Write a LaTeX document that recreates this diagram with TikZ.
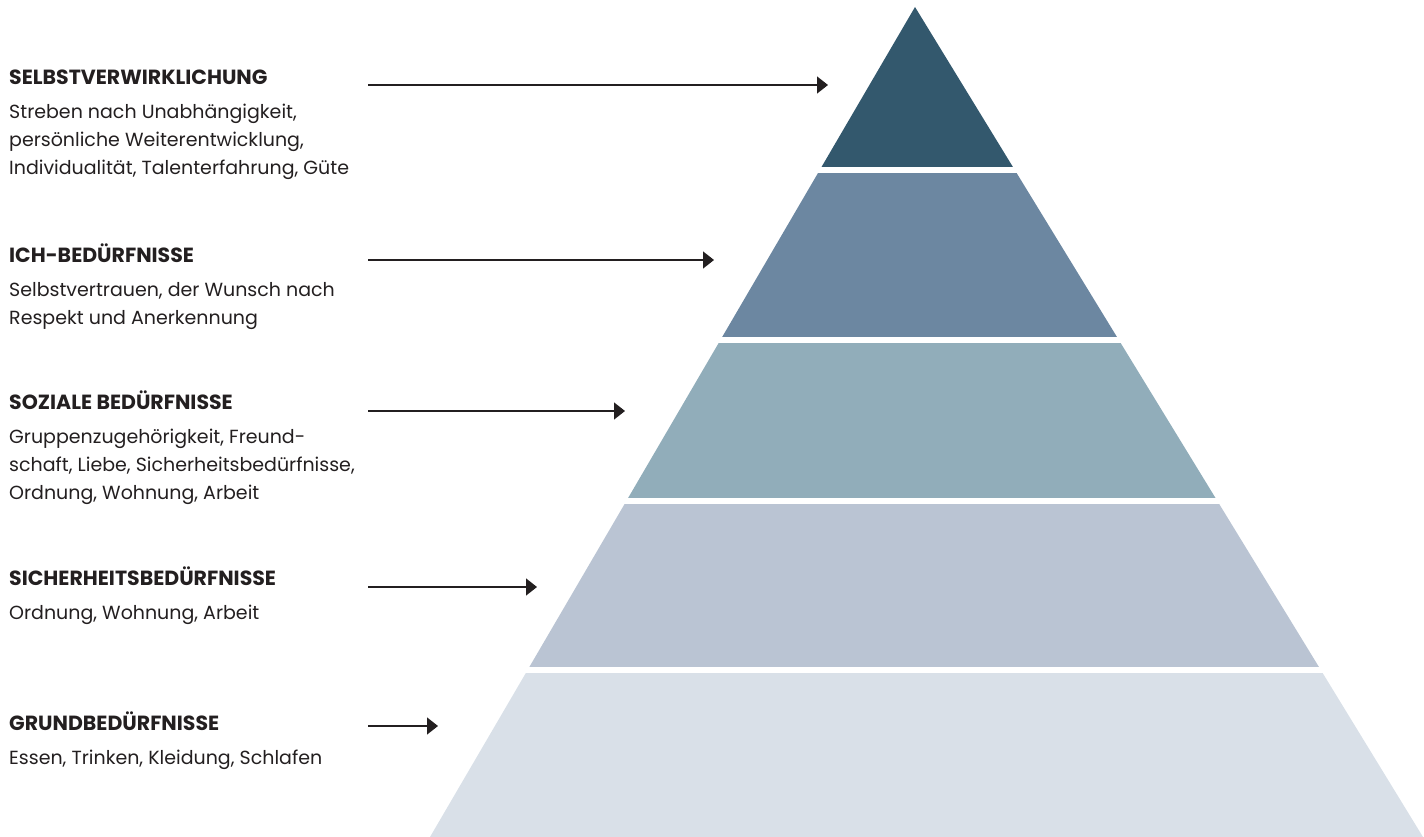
\documentclass[tikz,border=0pt]{standalone}
\usepackage{fontspec}
\setmainfont{Poppins}
\usetikzlibrary{arrows.meta}
\definecolor{ink}{HTML}{231F20}
\definecolor{lay1}{HTML}{33586D}
\definecolor{lay2}{HTML}{6C87A1}
\definecolor{lay3}{HTML}{91ADBA}
\definecolor{lay4}{HTML}{BAC4D3}
\definecolor{lay5}{HTML}{D9E0E8}
\newcommand{\blocktext}[1]{\begin{tabular}[t]{@{}l@{}}#1\end{tabular}}
\newcommand{\headtext}[1]{{\fontsize{20.5}{28}\selectfont\textbf{#1}}}
\tikzset{
  txt/.style={anchor=base west,inner sep=0pt,text=ink,
    font=\fontsize{19}{28}\selectfont},
  arr/.style={draw=ink,line width=1.3pt,-{Triangle[length=11pt,width=17pt]}}
}
\begin{document}
\begin{tikzpicture}[x=1pt,y=-1pt]
  \useasboundingbox (0,0) rectangle (1424,837);
  \begin{scope}
    \clip (915,7) -- (430,837) -- (1423,837) -- cycle;
    \fill[lay1] (0,0) rectangle (1424,167);
    \fill[lay2] (0,173) rectangle (1424,337);
    \fill[lay3] (0,343) rectangle (1424,498);
    \fill[lay4] (0,504) rectangle (1424,667);
    \fill[lay5] (0,673) rectangle (1424,837);
  \end{scope}
  \node[txt] (selbst) at (9,85) {\blocktext{\headtext{SELBSTVERWIRKLICHUNG}\\[6pt]Streben nach Unabhängigkeit,\\persönliche Weiterentwicklung,\\Individualität, Talenterfahrung, Güte}};
  \node[txt] (ich) at (9,262) {\blocktext{\headtext{ICH-BEDÜRFNISSE}\\[6pt]Selbstvertrauen, der Wunsch nach\\Respekt und Anerkennung}};
  \node[txt] (sozial) at (9,409) {\blocktext{\headtext{SOZIALE BEDÜRFNISSE}\\[6pt]Gruppenzugehörigkeit, Freund-\\schaft, Liebe, Sicherheitsbedürfnisse,\\Ordnung, Wohnung, Arbeit}};
  \node[txt] (sicher) at (9,585) {\blocktext{\headtext{SICHERHEITSBEDÜRFNISSE}\\[6pt]Ordnung, Wohnung, Arbeit}};
  \node[txt] (grund) at (9,730) {\blocktext{\headtext{GRUNDBEDÜRFNISSE}\\[6pt]Essen, Trinken, Kleidung, Schlafen}};
  \coordinate (a1) at (368,85);  \coordinate (b1) at (828,85);
  \coordinate (a2) at (368,260); \coordinate (b2) at (714,260);
  \coordinate (a3) at (368,411); \coordinate (b3) at (625,411);
  \coordinate (a4) at (368,587); \coordinate (b4) at (537,587);
  \coordinate (a5) at (368,726); \coordinate (b5) at (438,726);
  \draw[arr] (a1) -- (b1);
  \draw[arr] (a2) -- (b2);
  \draw[arr] (a3) -- (b3);
  \draw[arr] (a4) -- (b4);
  \draw[arr] (a5) -- (b5);
\end{tikzpicture}
\end{document}
